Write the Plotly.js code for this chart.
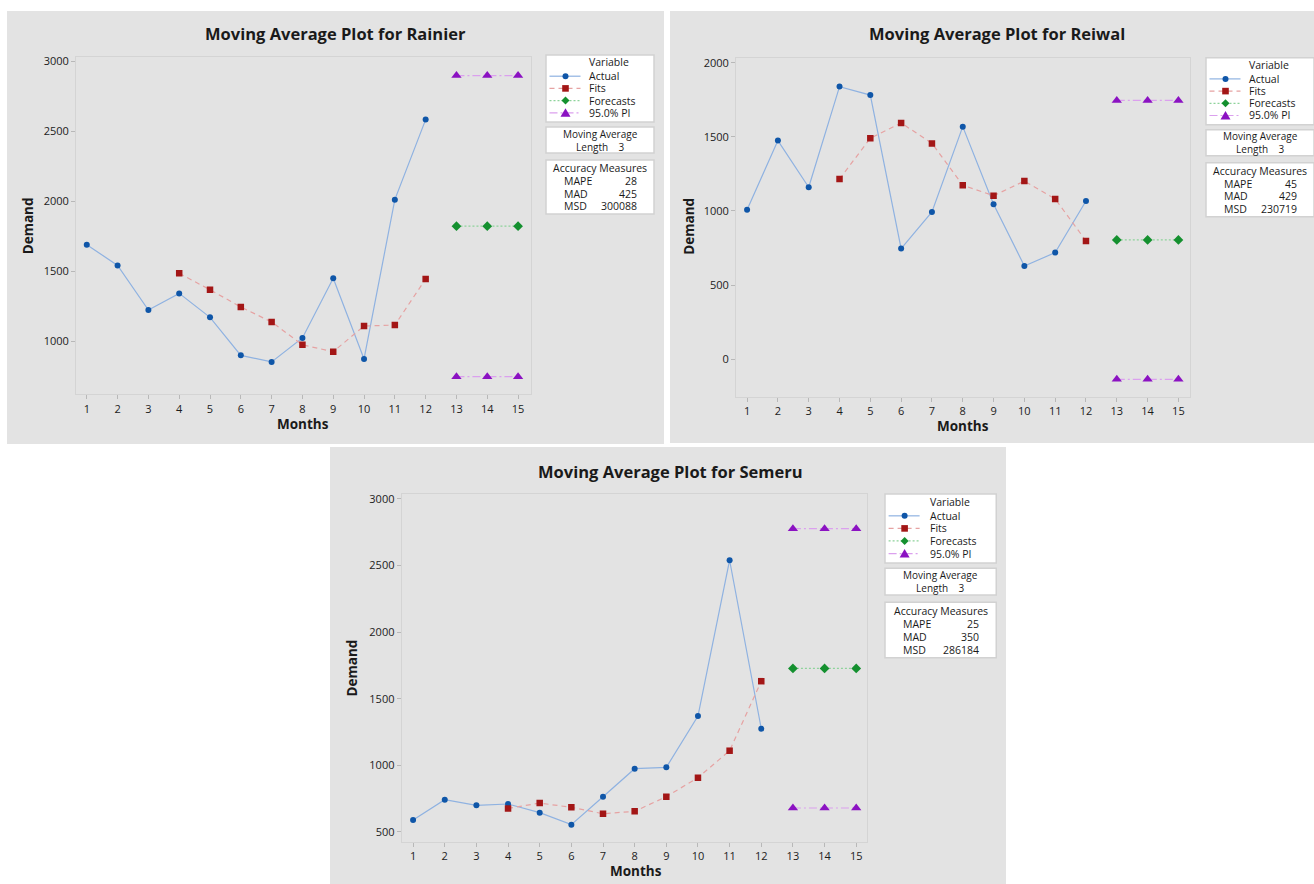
<!DOCTYPE html>
<html>
<head>
<meta charset="utf-8">
<script src="https://cdn.plot.ly/plotly-3.0.1.min.js"></script>
<style>
  html, body { margin: 0; padding: 0; background: #ffffff; }
  #chart { width: 1314px; height: 884px; }
</style>
</head>
<body>
<div id="chart"></div>
<script>
// ---- data ----
const months = [1, 2, 3, 4, 5, 6, 7, 8, 9, 10, 11, 12];
const fitMonths = [4, 5, 6, 7, 8, 9, 10, 11, 12];
const forecastMonths = [13, 14, 15];
const monthTicks = [1, 2, 3, 4, 5, 6, 7, 8, 9, 10, 11, 12, 13, 14, 15];

const rainierActual = [1690, 1541, 1223, 1342, 1171, 900, 853, 1024, 1450, 874, 2011, 2582];
const rainierFits = [1485, 1368, 1245, 1138, 975, 926, 1109, 1116, 1445];
const rainierForecast = [1822, 1822, 1822];
const rainierUpper = [2896, 2896, 2896];
const rainierLower = [748, 748, 748];
const rainierAccuracy = ["28", "425", "300088"];

const reiwalActual = [1009, 1475, 1160, 1839, 1782, 746, 993, 1569, 1045, 629, 719, 1067];
const reiwalFits = [1215, 1491, 1594, 1456, 1174, 1103, 1202, 1081, 798];
const reiwalForecast = [805, 805, 805];
const reiwalUpper = [1746, 1746, 1746];
const reiwalLower = [-136, -136, -136];
const reiwalAccuracy = ["45", "429", "230719"];

const semeruActual = [590, 742, 700, 710, 645, 555, 765, 975, 985, 1370, 2540, 1275];
const semeruFits = [677, 717, 685, 637, 655, 765, 908, 1110, 1632];
const semeruForecast = [1728, 1728, 1728];
const semeruUpper = [2777, 2777, 2777];
const semeruLower = [680, 680, 680];
const semeruAccuracy = ["25", "350", "286184"];

const seriesNames = ["Actual", "Fits", "Forecasts", "95.0% PI"];
const measureNames = ["MAPE", "MAD", "MSD"];
const maLength = "3";

// ---- styling ----
const W = 1314, H = 884;
const FONT = "Open Sans, Noto Sans, DejaVu Sans, sans-serif";
const PANEL_BG = "#e3e3e3";
const TEXT = "#1a1a1a";

const STYLE = {
  actual:   { line: "#8fb2e1", marker: "#0f56a8", dash: "solid",            symbol: "circle",      size: 6 },
  fits:     { line: "#e6a2a2", marker: "#a31616", dash: "5px,4px",          symbol: "square",      size: 6.5 },
  forecast: { line: "#8ed39b", marker: "#14902f", dash: "2px,2px",          symbol: "diamond",     size: 7.5 },
  pi:       { line: "#dba0ee", marker: "#8b12c2", dash: "8px,3px,2px,3px",  symbol: "triangle-up", size: 9 }
};

const px = v => v / W;
const py = v => 1 - v / H;

// panel geometry in page pixels
const panels = [
  {
    name: "Rainier", ax: "", bg: [7, 11, 664, 444],
    plot: [76, 56.7, 530.7, 394.3], xr: [0.65, 15.41], yr: [622, 3031], ytick: [1000, 1500, 2000, 2500, 3000],
    title: [335, 33.5], ytitle: [27.6, 225.7], xtitle: [302.6, 424], legend: [546, 55], ls: 1,
    actual: rainierActual, fits: rainierFits, forecast: rainierForecast, upper: rainierUpper, lower: rainierLower, acc: rainierAccuracy
  },
  {
    name: "Reiwal", ax: "2", bg: [670, 11, 1320, 443],
    plot: [736, 58.3, 1189.5, 396.7], xr: [0.64, 15.36], yr: [-253, 2030], ytick: [0, 500, 1000, 1500, 2000],
    title: [997, 34], ytitle: [689, 226.7], xtitle: [963.4, 426], legend: [1206, 57.7], ls: 1,
    actual: reiwalActual, fits: reiwalFits, forecast: reiwalForecast, upper: reiwalUpper, lower: reiwalLower, acc: reiwalAccuracy
  },
  {
    name: "Semeru", ax: "3", bg: [330, 447, 1006, 884],
    plot: [401.7, 494.3, 867.3, 841.7], xr: [0.64, 15.35], yr: [427, 3035], ytick: [500, 1000, 1500, 2000, 2500, 3000],
    title: [670, 471], ytitle: [351.8, 667.7], xtitle: [636, 870.5], legend: [885, 494], ls: 1.03,
    actual: semeruActual, fits: semeruFits, forecast: semeruForecast, upper: semeruUpper, lower: semeruLower, acc: semeruAccuracy
  }
];

const traces = [];
const shapes = [];
const annotations = [];
const layout = {
  width: W, height: H,
  margin: { l: 0, r: 0, t: 0, b: 0 },
  paper_bgcolor: "#ffffff",
  plot_bgcolor: "#ffffff",
  showlegend: false,
  font: { family: FONT, color: TEXT, size: 11 },
  shapes: shapes,
  annotations: annotations
};

function series(p, x, y, st) {
  traces.push({
    type: "scatter", mode: "lines+markers",
    x: x, y: y,
    xaxis: "x" + p.ax, yaxis: "y" + p.ax,
    line: { color: st.line, width: 1.2, dash: st.dash },
    marker: { color: st.marker, symbol: st.symbol, size: st.size, line: { width: 0 } },
    hoverinfo: "x+y", showlegend: false
  });
}

function text(x, y, t, opts) {
  annotations.push(Object.assign({
    xref: "paper", yref: "paper", x: px(x), y: py(y), text: t, showarrow: false,
    xanchor: "center", yanchor: "middle",
    font: { family: FONT, size: 10.5, color: TEXT }
  }, opts || {}));
}

function box(x0, y0, x1, y1) {
  shapes.push({
    type: "rect", xref: "paper", yref: "paper", layer: "below",
    x0: px(x0), x1: px(x1), y0: py(y0), y1: py(y1),
    fillcolor: "#ffffff", line: { color: "#d2d2d2", width: 1.5 }
  });
}

function swatch(x, y, st) {
  // line sample
  shapes.push({
    type: "line", xref: "paper", yref: "paper",
    x0: px(x), x1: px(x + 31), y0: py(y), y1: py(y),
    line: { color: st.line, width: 1.2, dash: st.dash }
  });
  const cx = x + 16;
  let path;
  if (st.symbol === "circle") {
    shapes.push({ type: "circle", xref: "paper", yref: "paper",
      x0: px(cx - 3), x1: px(cx + 3), y0: py(y - 3), y1: py(y + 3),
      fillcolor: st.marker, line: { width: 0 } });
    return;
  } else if (st.symbol === "square") {
    path = `M${px(cx - 3.3)},${py(y - 3.3)} L${px(cx + 3.3)},${py(y - 3.3)} L${px(cx + 3.3)},${py(y + 3.3)} L${px(cx - 3.3)},${py(y + 3.3)} Z`;
  } else if (st.symbol === "diamond") {
    path = `M${px(cx)},${py(y - 4)} L${px(cx + 4)},${py(y)} L${px(cx)},${py(y + 4)} L${px(cx - 4)},${py(y)} Z`;
  } else {
    path = `M${px(cx)},${py(y - 4.5)} L${px(cx + 5)},${py(y + 4)} L${px(cx - 5)},${py(y + 4)} Z`;
  }
  shapes.push({ type: "path", xref: "paper", yref: "paper", path: path,
    fillcolor: st.marker, line: { width: 0 } });
}

panels.forEach(p => {
  // panel background
  shapes.push({
    type: "rect", xref: "paper", yref: "paper", layer: "below",
    x0: px(p.bg[0]), x1: px(p.bg[2]), y0: py(p.bg[1]), y1: py(p.bg[3]),
    fillcolor: PANEL_BG, line: { width: 0 }
  });

  // axes
  const axCommon = {
    showgrid: false, zeroline: false, showline: true, mirror: true,
    linecolor: "#d4d4d4", linewidth: 1,
    ticks: "outside", ticklen: 4, tickcolor: "#b8b8b8", tickwidth: 1,
    tickfont: { family: FONT, size: 11, color: "#1c1c1c" },
    fixedrange: true
  };
  layout["xaxis" + p.ax] = Object.assign({}, axCommon, {
    domain: [px(p.plot[0]), px(p.plot[2])],
    range: p.xr, tickvals: monthTicks, ticktext: monthTicks.map(String),
    anchor: "y" + p.ax
  });
  layout["yaxis" + p.ax] = Object.assign({}, axCommon, {
    domain: [py(p.plot[3]), py(p.plot[1])],
    range: p.yr, tickvals: p.ytick, ticktext: p.ytick.map(String),
    anchor: "x" + p.ax
  });

  // data
  series(p, months, p.actual, STYLE.actual);
  series(p, fitMonths, p.fits, STYLE.fits);
  series(p, forecastMonths, p.forecast, STYLE.forecast);
  series(p, forecastMonths, p.upper, STYLE.pi);
  series(p, forecastMonths, p.lower, STYLE.pi);

  // titles
  text(p.title[0], p.title[1], "<b>Moving Average Plot for " + p.name + "</b>",
    { font: { family: FONT, size: 16.5, color: "#1a1a1a" } });
  text(p.ytitle[0], p.ytitle[1], "<b>Demand</b>",
    { textangle: -90, font: { family: FONT, size: 13.5, color: "#1a1a1a" } });
  text(p.xtitle[0], p.xtitle[1], "<b>Months</b>",
    { font: { family: FONT, size: 13.5, color: "#1a1a1a" } });

  // legend blocks
  const L = p.legend[0], T = p.legend[1], s = p.ls;
  const bw = 108 * s;
  box(L, T, L + bw, T + 67 * s);
  box(L, T + 72 * s, L + bw, T + 98 * s);
  box(L, T + 105 * s, L + bw, T + 159 * s);

  text(L + 41.3 * s, T + 7.5 * s, "Variable", { xanchor: "left" });
  const styles = [STYLE.actual, STYLE.fits, STYLE.forecast, STYLE.pi];
  seriesNames.forEach((nm, i) => {
    const yy = T + (21.2 + 12.2 * i) * s;
    swatch(L + 3.5 * s, yy, styles[i]);
    text(L + 41.3 * s, yy, nm, { xanchor: "left" });
  });

  // moving average length block (two lines in one label)
  text(L + 54 * s, T + 85 * s,
    "Moving Average<br>Length\u00a0\u00a0\u00a0\u00a0" + maLength,
    { font: { family: FONT, size: 10, color: TEXT } });

  text(L + 54 * s, T + 113.3 * s, "Accuracy Measures");
  measureNames.forEach((nm, i) => {
    const yy = T + (126 + 12.5 * i) * s;
    text(L + 15.7 * s, yy, nm, { xanchor: "left" });
    text(L + 93 * s, yy, p.acc[i], { xanchor: "right" });
  });
});

Plotly.newPlot("chart", traces, layout, { displayModeBar: false, staticPlot: true });
</script>
</body>
</html>
